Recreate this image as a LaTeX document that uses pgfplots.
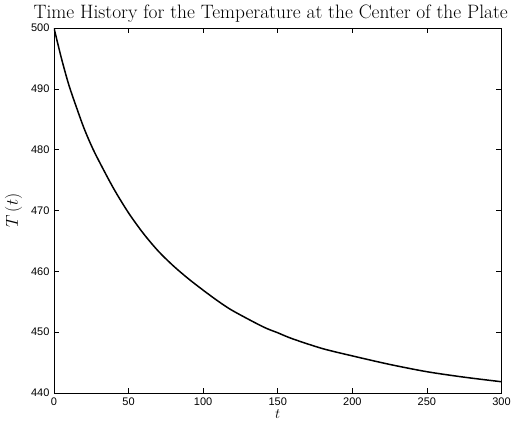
\documentclass[border=0pt]{standalone}
\usepackage{pgfplots}
\pgfplotsset{compat=1.18}
\usepackage{fontspec}
\newfontfamily\tickfont{Liberation Sans}
\begin{document}
\begin{tikzpicture}
\begin{axis}[
  scale only axis,
  width=447.5pt, height=365pt,
  at={(0pt,0pt)}, anchor=south west,
  xmin=0, xmax=300, ymin=440, ymax=500,
  xtick={0,50,...,300}, ytick={440,450,...,500},
  tick align=inside, major tick length=5pt,
  tick style={line width=0.5pt, black},
  axis line style={line width=0.6pt},
  ticklabel style={font=\tickfont\fontsize{11}{12}\selectfont},
  /pgf/number format/assume math mode=true,
  /pgf/number format/1000 sep={},
  xticklabel style={yshift=-1pt},
  yticklabel style={xshift=-1pt},
  xlabel={$t$}, ylabel={$T\,(t)$},
  xlabel style={font=\fontsize{14}{15}\selectfont, yshift=3pt},
  ylabel style={font=\fontsize{16}{17}\selectfont, yshift=2pt},
  title={Time History for the Temperature at the Center of the Plate},
  title style={font=\fontsize{19.4}{20}\selectfont, yshift=-4pt, xshift=-7pt},
]
\addplot[black, line width=1.5pt, smooth] coordinates {
(0,500) (5,495) (10,490.6) (15,487) (20,483.6) (25,480.7) (30,478.2)
(40,473.6) (50,469.6) (60,466.2) (70,463.3) (80,460.9) (90,458.8)
(100,456.9) (110,455.1) (120,453.5) (140,450.9) (150,449.9) (160,448.9) (180,447.3)
(200,446.1) (225,444.7) (250,443.5) (275,442.6) (300,441.85)
};
\end{axis}
\pgfresetboundingbox
\useasboundingbox (-54pt,-30pt) rectangle (458pt,393pt);
\end{tikzpicture}
\end{document}
